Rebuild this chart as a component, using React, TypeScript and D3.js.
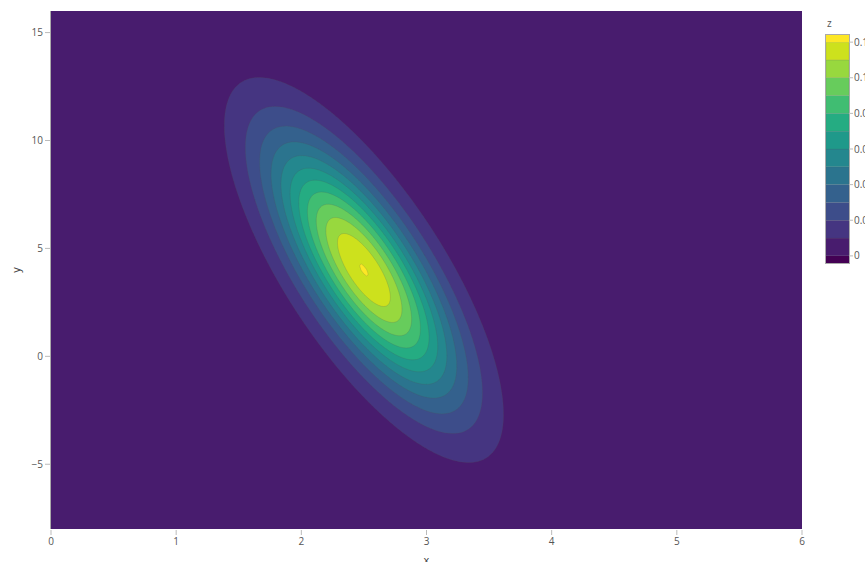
import * as d3 from "d3";
import React, { useEffect, useRef } from "react";

// axis ranges and ticks
const xDomain = [0, 6];
const yDomain = [-8, 16];
const xTicks = [0, 1, 2, 3, 4, 5, 6];
const yTicks = [-5, 0, 5, 10, 15];

// contour levels (start 0, size 0.01, end 0.12)
const levels = [0, 0.01, 0.02, 0.03, 0.04, 0.05, 0.06, 0.07, 0.08, 0.09, 0.1, 0.11, 0.12];
const colorbarTicks = [0, 0.02, 0.04, 0.06, 0.08, 0.1, 0.12];
const colorbarRange = [-0.004, 0.124];

// bivariate normal that the z grid was sampled from
const mean = [2.5, 4];
const cov = [
  [0.25, -1.5],
  [-1.5, 16],
];

const W = 865;
const H = 562;

const App = () => {
  const svgRef = useRef(null);

  useEffect(() => {
    const svg = d3.select(svgRef.current);
    svg.selectAll("*").remove();

    const margin = { top: 11, right: 63, bottom: 33, left: 51 };
    const width = W - margin.left - margin.right;
    const height = H - margin.top - margin.bottom;

    const x = d3.scaleLinear().domain(xDomain).range([0, width]);
    const y = d3.scaleLinear().domain(yDomain).range([height, 0]);

    // sample z on a grid
    const nx = 301;
    const ny = 481;
    const dx = (xDomain[1] - xDomain[0]) / (nx - 1);
    const dy = (yDomain[1] - yDomain[0]) / (ny - 1);
    const det = cov[0][0] * cov[1][1] - cov[0][1] * cov[1][0];
    const inv = [
      [cov[1][1] / det, -cov[0][1] / det],
      [-cov[1][0] / det, cov[0][0] / det],
    ];
    const norm = 1 / (2 * Math.PI * Math.sqrt(det));
    const values = new Float64Array(nx * ny);
    for (let j = 0; j < ny; j++) {
      const yy = yDomain[0] + j * dy - mean[1];
      for (let i = 0; i < nx; i++) {
        const xx = xDomain[0] + i * dx - mean[0];
        const q = inv[0][0] * xx * xx + 2 * inv[0][1] * xx * yy + inv[1][1] * yy * yy;
        values[j * nx + i] = norm * Math.exp(-q / 2);
      }
    }

    const contours = d3.contours().size([nx, ny]).thresholds(levels)(values);

    const nBands = levels.length + 1;
    const bandColor = (i) => d3.interpolateViridis(i / (nBands - 1));

    const path = d3.geoPath(
      d3.geoTransform({
        point(px, py) {
          this.stream.point(
            x(xDomain[0] + (px - 0.5) * dx),
            y(yDomain[0] + (py - 0.5) * dy)
          );
        },
      })
    );

    svg.append("rect").attr("width", W).attr("height", H).attr("fill", "#fff");

    svg
      .append("defs")
      .append("clipPath")
      .attr("id", "plot-clip")
      .append("rect")
      .attr("width", width)
      .attr("height", height);

    const g = svg.append("g").attr("transform", `translate(${margin.left},${margin.top})`);

    const plot = g.append("g").attr("clip-path", "url(#plot-clip)");
    plot
      .append("rect")
      .attr("width", width)
      .attr("height", height)
      .attr("fill", bandColor(0));

    plot
      .selectAll("path")
      .data(contours)
      .join("path")
      .attr("d", path)
      .attr("fill", (d, i) => bandColor(i + 1))
      .attr("stroke", (d, i) => (i === 0 ? "none" : "#555"))
      .attr("stroke-opacity", 0.3)
      .attr("stroke-width", 0.6);

    // left edge line
    g.append("line")
      .attr("x1", -0.5)
      .attr("x2", -0.5)
      .attr("y1", 0)
      .attr("y2", height)
      .attr("stroke", "#aaa")
      .attr("stroke-width", 1);

    const font = "'Open Sans', 'DejaVu Sans', sans-serif";

    // x axis
    const xAxis = g.append("g").attr("transform", `translate(0,${height})`);
    xTicks.forEach((t) => {
      xAxis
        .append("line")
        .attr("x1", x(t))
        .attr("x2", x(t))
        .attr("y1", 1)
        .attr("y2", 6)
        .attr("stroke", "#bbb");
      xAxis
        .append("text")
        .attr("x", x(t))
        .attr("y", 16)
        .attr("text-anchor", "middle")
        .attr("font-family", font)
        .attr("font-size", 10)
        .attr("fill", "#555")
        .text(t);
    });
    xAxis
      .append("text")
      .attr("x", width / 2)
      .attr("y", 35)
      .attr("text-anchor", "middle")
      .attr("font-family", font)
      .attr("font-size", 11)
      .attr("fill", "#444")
      .text("x");

    // y axis
    const yAxis = g.append("g");
    yTicks.forEach((t) => {
      yAxis
        .append("line")
        .attr("x1", -6)
        .attr("x2", -1)
        .attr("y1", y(t))
        .attr("y2", y(t))
        .attr("stroke", "#bbb");
      yAxis
        .append("text")
        .attr("x", -8)
        .attr("y", y(t))
        .attr("dy", "0.35em")
        .attr("text-anchor", "end")
        .attr("font-family", font)
        .attr("font-size", 10)
        .attr("fill", "#555")
        .text(t < 0 ? `\u2212${-t}` : t);
    });
    yAxis
      .append("text")
      .attr("transform", `translate(-31,${height / 2}) rotate(-90)`)
      .attr("text-anchor", "middle")
      .attr("font-family", font)
      .attr("font-size", 11)
      .attr("fill", "#444")
      .text("y");

    // colorbar
    const cbX = 826;
    const cbW = 23;
    const cb = d3.scaleLinear().domain(colorbarRange).range([263, 35]);
    const bandEdges = [colorbarRange[0], ...levels, colorbarRange[1]];
    const cbg = svg.append("g");
    for (let i = 0; i < bandEdges.length - 1; i++) {
      cbg
        .append("rect")
        .attr("x", cbX)
        .attr("width", cbW)
        .attr("y", cb(bandEdges[i + 1]))
        .attr("height", cb(bandEdges[i]) - cb(bandEdges[i + 1]))
        .attr("fill", bandColor(i))
        .attr("stroke", i === 0 || i === bandEdges.length - 2 ? "none" : "#555")
        .attr("stroke-opacity", 0.25)
        .attr("stroke-width", 0.5);
    }
    cbg
      .append("rect")
      .attr("x", cbX - 0.5)
      .attr("y", cb(colorbarRange[1]) - 0.5)
      .attr("width", cbW + 1)
      .attr("height", cb(colorbarRange[0]) - cb(colorbarRange[1]) + 1)
      .attr("fill", "none")
      .attr("stroke", "#aaa")
      .attr("stroke-width", 1);
    colorbarTicks.forEach((t) => {
      cbg
        .append("line")
        .attr("x1", cbX + cbW)
        .attr("x2", cbX + cbW + 4)
        .attr("y1", cb(t))
        .attr("y2", cb(t))
        .attr("stroke", "#bbb");
      cbg
        .append("text")
        .attr("x", cbX + cbW + 5)
        .attr("y", cb(t))
        .attr("dy", "0.35em")
        .attr("font-family", font)
        .attr("font-size", 10)
        .attr("fill", "#555")
        .text(t);
    });
    cbg
      .append("text")
      .attr("x", cbX + 1)
      .attr("y", 27)
      .attr("font-family", font)
      .attr("font-size", 10)
      .attr("fill", "#555")
      .text("z");
  }, []);

  return (
    <svg
      ref={svgRef}
      width={W}
      height={H}
      style={{ position: "absolute", left: 0, top: 0, display: "block" }}
    />
  );
};

export default App;
